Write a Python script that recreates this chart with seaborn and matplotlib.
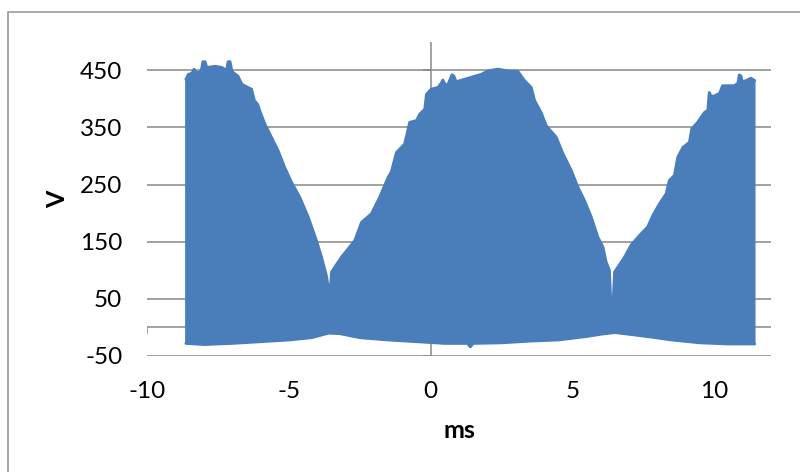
import numpy as np
import matplotlib
matplotlib.use("Agg")
import matplotlib.pyplot as plt
import seaborn as sns
from matplotlib.patches import Rectangle

# envelope of the switched voltage (ms, V)
top_ms = [-8.64, -8.55, -8.42, -8.35, -8.28, -8.1, -8.04, -7.96, -7.9, -7.6,
          -7.37, -7.2, -7.15, -7.08, -7.02, -6.97, -6.8, -6.67, -6.45, -6.32,
          -6.22, -6.1, -6.03, -5.85, -5.62, -5.38, -5.15, -4.91, -4.62, -4.32,
          -4.03, -3.85, -3.68, -3.59, -3.55, -3.5, -3.15, -2.68, -2.44, -2.09,
          -1.8, -1.5, -1.39, -1.21, -0.92, -0.74, -0.5, -0.39, -0.21, -0.15,
          0.02, 0.26, 0.38, 0.43, 0.5, 0.6, 0.75, 0.82, 0.9, 1.31,
          1.79, 2.02, 2.37, 2.72, 3.08, 3.31, 3.55, 3.67, 3.9, 4.08,
          4.43, 4.67, 4.96, 5.2, 5.43, 5.67, 5.9, 6.08, 6.19, 6.31,
          6.37, 6.42, 6.49, 6.84, 7.07, 7.37, 7.66, 7.84, 8.07, 8.31,
          8.42, 8.6, 8.72, 8.9, 9.13, 9.21, 9.42, 9.66, 9.78, 9.83,
          9.9, 10.01, 10.2, 10.3, 10.72, 10.85, 10.89, 10.95, 11.0, 11.13,
          11.3, 11.44]
top_v = [434, 443, 445, 452, 446, 448, 465, 465, 455, 457,
         455, 450, 465, 465, 450, 446, 440, 426, 420, 417,
         397, 390, 379, 356, 333, 309, 280, 254, 228, 193,
         152, 123, 91, 62, 62, 97, 123, 152, 184, 199,
         228, 263, 272, 306, 321, 359, 362, 373, 382, 408,
         417, 420, 428, 433, 426, 424, 442, 440, 430, 436,
         443, 449, 452, 449, 448, 432, 420, 397, 376, 353,
         333, 304, 275, 245, 222, 193, 158, 141, 115, 100,
         26, 26, 97, 123, 144, 161, 176, 196, 216, 234,
         257, 266, 298, 315, 324, 347, 359, 376, 380, 411,
         405, 405, 410, 423, 423, 428, 442, 440, 430, 432,
         436, 432]

bottom_ms = [-8.64, -8.0, -7.5, -7.0, -6.0, -5.0, -4.2, -3.6, -3.2, -2.5,
             -1.5, -0.5, 0.5, 1.3, 1.4, 1.5, 2.5, 3.5, 4.5, 5.5,
             6.0, 6.5, 7.0, 7.8, 8.5, 9.5, 10.5, 11.44]
bottom_v = [-28, -30, -29, -28, -25, -22, -18, -10, -11, -18,
            -22, -25, -28, -28, -34, -28, -27, -24, -22, -16,
            -12, -9, -12, -17, -22, -27, -29, -29]

x_ticks = [-10, -5, 0, 5, 10]
y_ticks = [-50, 50, 150, 250, 350, 450]

blue = "#4a7ebb"
grid_c = "#878787"

sns.set_theme(style="white")
plt.rcParams["font.family"] = ["Lato", "DejaVu Sans"]
plt.rcParams["axes.unicode_minus"] = False

fig = plt.figure(figsize=(8, 4.72), dpi=100)
ax = fig.add_axes([147.3 / 800, 1 - 356 / 472, 623.4 / 800, 314.3 / 472])
ax.set_xlim(-10, 12)
ax.set_ylim(-50, 500)

# gridlines and axis lines (behind the trace)
for y in y_ticks:
    ax.axhline(y, color=grid_c, lw=1.1, zorder=0)
ax.axhline(0, color=grid_c, lw=1.1, zorder=0)
ax.axvline(0, color=grid_c, lw=1.1, zorder=0)
ax.vlines(x_ticks, -11, 0, color=grid_c, lw=1.1, zorder=0)
ax.hlines(y_ticks, -0.28, 0, color=grid_c, lw=1.1, zorder=0)

# trace body
poly_x = np.concatenate([top_ms, bottom_ms[::-1]])
poly_y = np.concatenate([top_v, bottom_v[::-1]])
ax.fill(poly_x, poly_y, color=blue, lw=1, zorder=2)
sns.lineplot(x=top_ms, y=top_v, ax=ax, color=blue, lw=2, sort=False,
             estimator=None, zorder=3)
sns.lineplot(x=bottom_ms, y=bottom_v, ax=ax, color=blue, lw=2, sort=False,
             estimator=None, zorder=3)

ax.set_xticks(x_ticks)
ax.set_yticks(y_ticks)
ax.set_xticklabels([str(t) for t in x_ticks])
ax.set_yticklabels([str(t) for t in y_ticks])
ax.tick_params(axis="x", length=0, pad=18, labelsize=17.5, colors="black")
ax.tick_params(axis="y", length=0, pad=18, labelsize=17.5, colors="black")
for s in ax.spines.values():
    s.set_visible(False)

ax.set_xlabel("ms", fontsize=18, fontweight="bold", color="black")
ax.set_ylabel("V", fontsize=18, fontweight="bold", color="black")
ax.xaxis.set_label_coords(0.5, -0.2)
ax.yaxis.set_label_coords(-0.125, 0.5)

# chart area border
fig.patches.append(Rectangle((8.3 / 800, -0.1), 1.2, 1.1 - 12.3 / 472,
                             transform=fig.transFigure, fill=False,
                             edgecolor="#999999", lw=1.2))

fig.savefig("out.png", dpi=100)
